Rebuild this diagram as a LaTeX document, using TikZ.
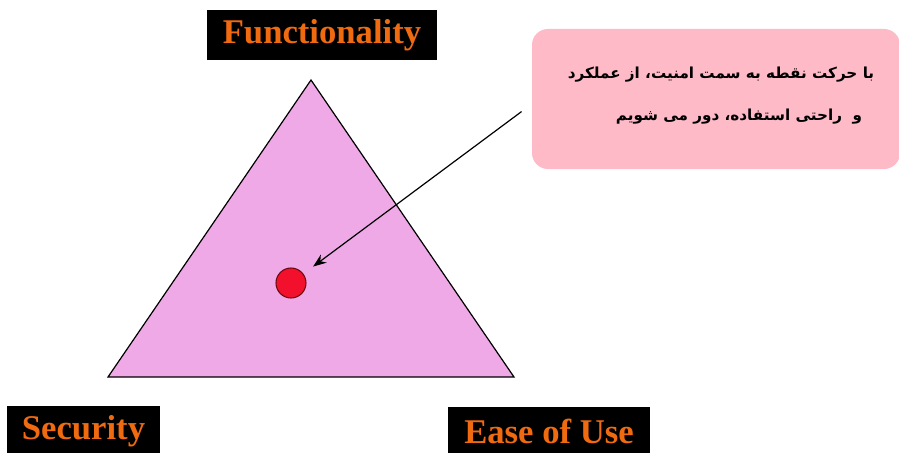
\documentclass[tikz,border=0pt]{standalone}
\usepackage{fontspec}
\setmainfont{Liberation Serif}
\newfontfamily\farsifont[Script=Arabic]{DejaVu Sans}
\TeXXeTstate=1
\usetikzlibrary{positioning,arrows.meta}
\definecolor{tagorange}{HTML}{F06A10}
\definecolor{trifill}{HTML}{EFA9E6}
\definecolor{notefill}{HTML}{FFBAC8}
\definecolor{dotred}{HTML}{F2102C}
\definecolor{dotedge}{HTML}{6A0A10}
\tikzset{
  tag/.style     ={fill=black, text=tagorange, font=\fontsize{26}{28}\selectfont\bfseries,
                   minimum height=37.5pt, inner sep=0pt},
  note/.style    ={rounded corners=12pt, fill=notefill, minimum width=276pt, minimum height=105pt, inner sep=0pt},
  noteline/.style={font=\farsifont\bfseries\fontsize{11.4}{13}\selectfont, inner sep=0pt},
  spot/.style    ={circle, draw=dotedge, fill=dotred, line width=0.8pt, minimum size=22.5pt, inner sep=0pt},
  pointer/.style ={-{Stealth[length=10pt, width=7.5pt]}, line width=0.9pt},
}
\begin{document}
\begin{tikzpicture}[x=0.75pt, y=-0.75pt]
\useasboundingbox (0,0) rectangle (899,453);
% the triangle
\coordinate (apex) at (311,80);
\coordinate (left) at (108,377);
\coordinate (right) at (514,377);
\draw[fill=trifill, line width=0.9pt, line join=miter] (apex) -- (left) -- (right) -- cycle;
\node[spot] (dot) at (291,283) {};
% corner labels
\node[tag, minimum width=172.5pt] (func) at (322,35) {Functionality};
\node[tag, minimum width=115pt] (sec) at (83.5,431) {Security};
\node[tag, minimum width=151.5pt] (ease) at (549,431.5) {Ease of Use};
% note
\node[note] (box) at (716,99) {};
\node[noteline] (l1) at (721,75) {\beginR با حرکت نقطه به سمت امنیت، از عملکرد\endR};
\node[noteline] (l2) at (739,117) {\beginR و\ \ راحتی استفاده، دور می شویم\endR};
\draw[pointer, shorten <=9.5pt, shorten >=9pt] ([yshift=-3.75pt]box.west) -- (dot);
\end{tikzpicture}
\end{document}
